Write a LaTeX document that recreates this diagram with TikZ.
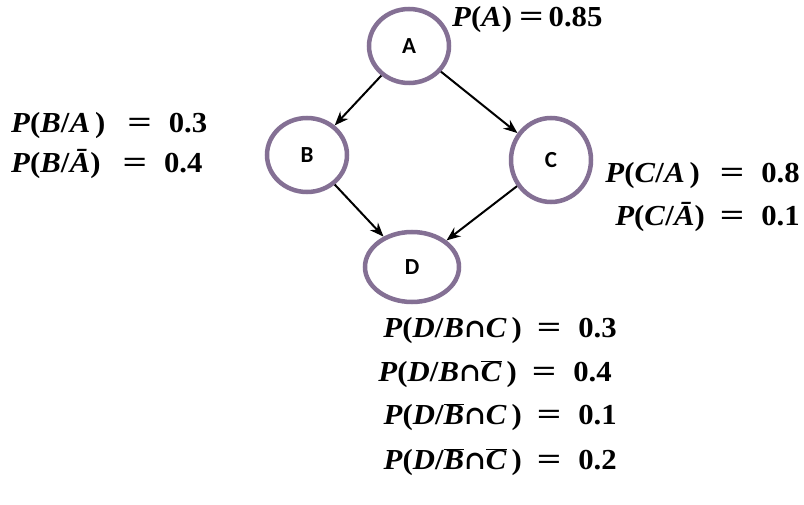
\documentclass[tikz,border=0pt]{standalone}
\usepackage{fontspec}
\usepackage{graphicx}
\setmainfont[FakeStretch=1.06]{Liberation Serif}
\newfontfamily\nodefont{Carlito}
\newfontfamily\capfont{DejaVu Serif}
\usetikzlibrary{shapes.geometric,arrows.meta}
\newcommand\pit[1]{\textbf{\textit{#1}}}
\newcommand\obar[1]{$\overline{\hbox{\pit{#1}}}$}
\newcommand\bigeq{\scalebox{1.4}[1.05]{=}}
\newcommand\eqs[2]{\hspace{#1}\bigeq\hspace{#2}}
\newcommand\capp{{\capfont\bfseries\scalebox{0.9}{∩}}}
\begin{document}
\begin{tikzpicture}[x=1pt,y=-1pt,
  bnode/.style={ellipse,draw={rgb,255:red,132;green,112;blue,148},line width=4.5pt,inner sep=0pt,font=\nodefont\bfseries\fontsize{23}{23}\selectfont},
  conn/.style={-{Stealth[length=14pt,width=11pt]},line width=2pt,black},
  prob/.style={inner sep=0pt,font=\bfseries\fontsize{29}{31}\selectfont}]
\useasboundingbox[fill=white] (0,0) rectangle (804,505);
\node[bnode,minimum width=80pt,minimum height=74pt] (A) at (409,46) {A};
\node[bnode,minimum width=80pt,minimum height=74pt] (B) at (307,155) {B};
\node[bnode,minimum width=80pt,minimum height=84pt] (C) at (551,160) {C};
\node[bnode,minimum width=94pt,minimum height=70pt] (D) at (412,267) {D};
\draw[conn] (A) -- (B);
\draw[conn] (A) -- (C);
\draw[conn] (B) -- (D);
\draw[conn] (C) -- (D);
\node[prob,anchor=west] (pa) at (452,20) {\pit{P}(\pit{A})\eqs{7pt}{5pt}0.85};
\node[prob,anchor=west] (pb1) at (11,126) {\pit{P}(\pit{B}/\pit{A}\,)\eqs{22pt}{17pt}0.3};
\node[prob,anchor=west] (pb2) at (11,164) {\pit{P}(\pit{B}/\pit{\=A})\eqs{22pt}{17pt}0.4};
\node[prob,anchor=east] (pc1) at (800,176) {\pit{P}(\pit{C}/\pit{A}\,)\eqs{20pt}{17pt}0.8};
\node[prob,anchor=east] (pc2) at (800,217) {\pit{P}(\pit{C}/\pit{\=A})\eqs{15pt}{17pt}0.1};
\node[prob,anchor=east] (pd1) at (617,331) {\pit{P}(\pit{D}/\pit{B}\capp\pit{C}\,)\eqs{15pt}{17pt}0.3};
\node[prob,anchor=east] (pd2) at (612,374) {\pit{P}(\pit{D}/\pit{B}\capp\obar{C}\,)\eqs{15pt}{17pt}0.4};
\node[prob,anchor=east] (pd3) at (617,417) {\pit{P}(\pit{D}/\obar{B}\capp\pit{C}\,)\eqs{15pt}{17pt}0.1};
\node[prob,anchor=east] (pd4) at (617,462) {\pit{P}(\pit{D}/\obar{B}\capp\obar{C}\,)\eqs{15pt}{17pt}0.2};
\end{tikzpicture}
\end{document}
